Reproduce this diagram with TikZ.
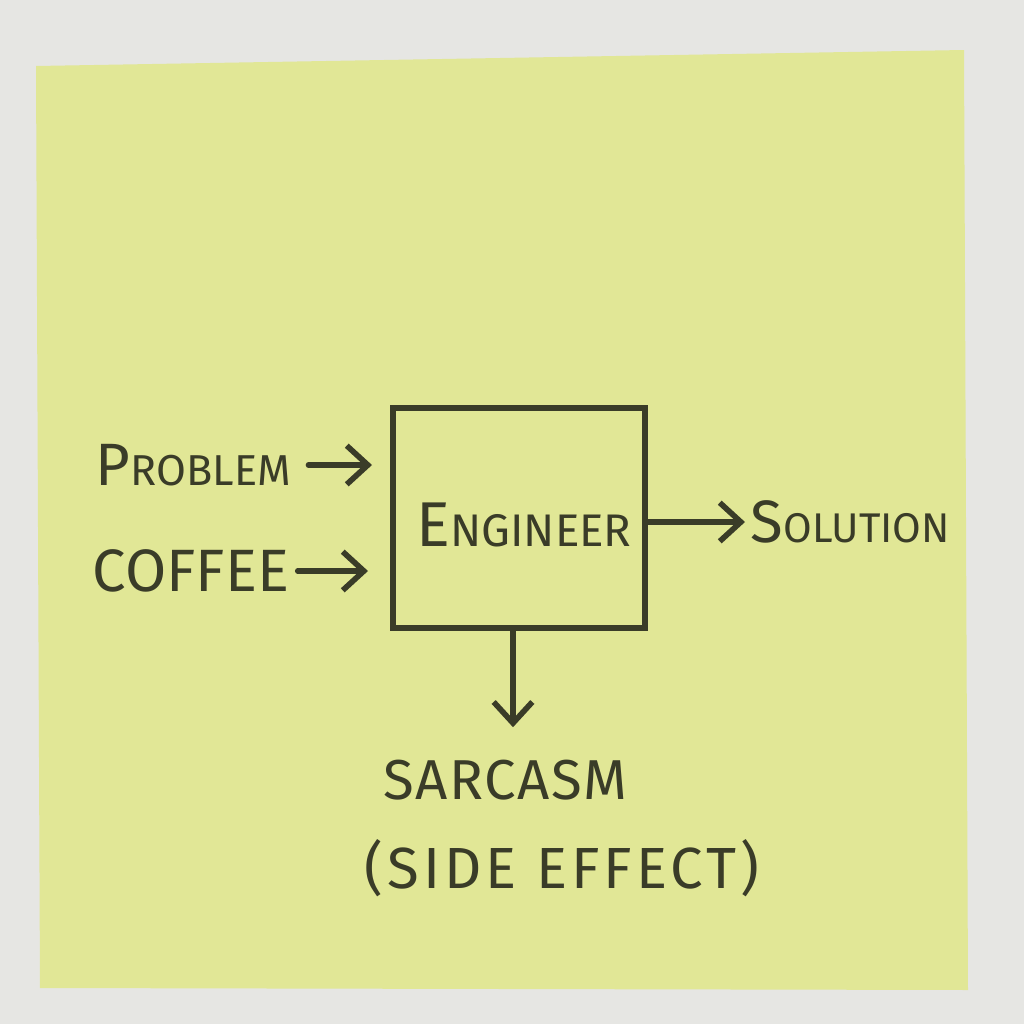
\documentclass[tikz,border=0pt]{standalone}
\usepackage{fontspec}
\setmainfont{Fira Sans}
\usetikzlibrary{arrows.meta}
\definecolor{bgc}{RGB}{230,230,227}
\definecolor{notec}{RGB}{225,231,150}
\definecolor{ink}{RGB}{58,60,40}
\newcommand{\bigL}[4]{{\fontsize{#1}{20}\selectfont #3}{\fontsize{#2}{17}\selectfont #4}}
\tikzset{
  lbl/.style={text=ink, inner sep=0pt, font=\fontsize{17}{20}\selectfont},
  arr/.style={draw=ink, line width=1.6pt, line cap=round, -{Straight Barb[length=6pt,width=11pt,line width=1.6pt]}},
  enginebox/.style={draw=ink, line width=1.6pt, minimum width=2.52cm, minimum height=2.2cm, inner sep=0pt}
}
\begin{document}
\begin{tikzpicture}[x=0.01cm,y=-0.01cm]
\useasboundingbox (0,0) rectangle (1024,1024);
\fill[bgc] (0,0) rectangle (1024,1024);
\fill[notec] (36,66) -- (964,50) -- (968,990) -- (40,988) -- cycle;
\node[enginebox] (eng) at (519,518) {};
\node[lbl] (engt) at (524,525) {\bigL{18}{13}{E}{NGINEER}};
\node[lbl, anchor=west] (prob) at (95,465) {\bigL{17}{12.3}{P}{ROBLEM}};
\node[lbl, anchor=west] (cof) at (92,571) {\fontsize{17}{20}\selectfont COFFEE};
\node[lbl, anchor=west] (sol) at (750,522) {\bigL{17}{11.8}{S}{OLUTION}};
\node[lbl] (sarc) at (505,780) {\fontsize{16}{18}\selectfont\addfontfeature{LetterSpace=3} SARCASM};
\node[lbl] (side) at (562,868) {\fontsize{16.5}{18}\selectfont\addfontfeature{LetterSpace=7}(SIDE EFFECT)};
\coordinate (pend) at (372,465);
\coordinate (cend) at (368,571);
\draw[arr] ([xshift=0.17cm]prob.east) -- (pend);
\draw[arr] ([xshift=0.08cm]cof.east) -- (cend);
\draw[arr] (eng.east |- sol.west) -- ([xshift=-0.05cm]sol.west);
\draw[arr] ([xshift=-0.06cm]eng.south) -- ([xshift=-0.06cm,yshift=0.32cm]eng.south |- sarc.north);
\end{tikzpicture}
\end{document}
